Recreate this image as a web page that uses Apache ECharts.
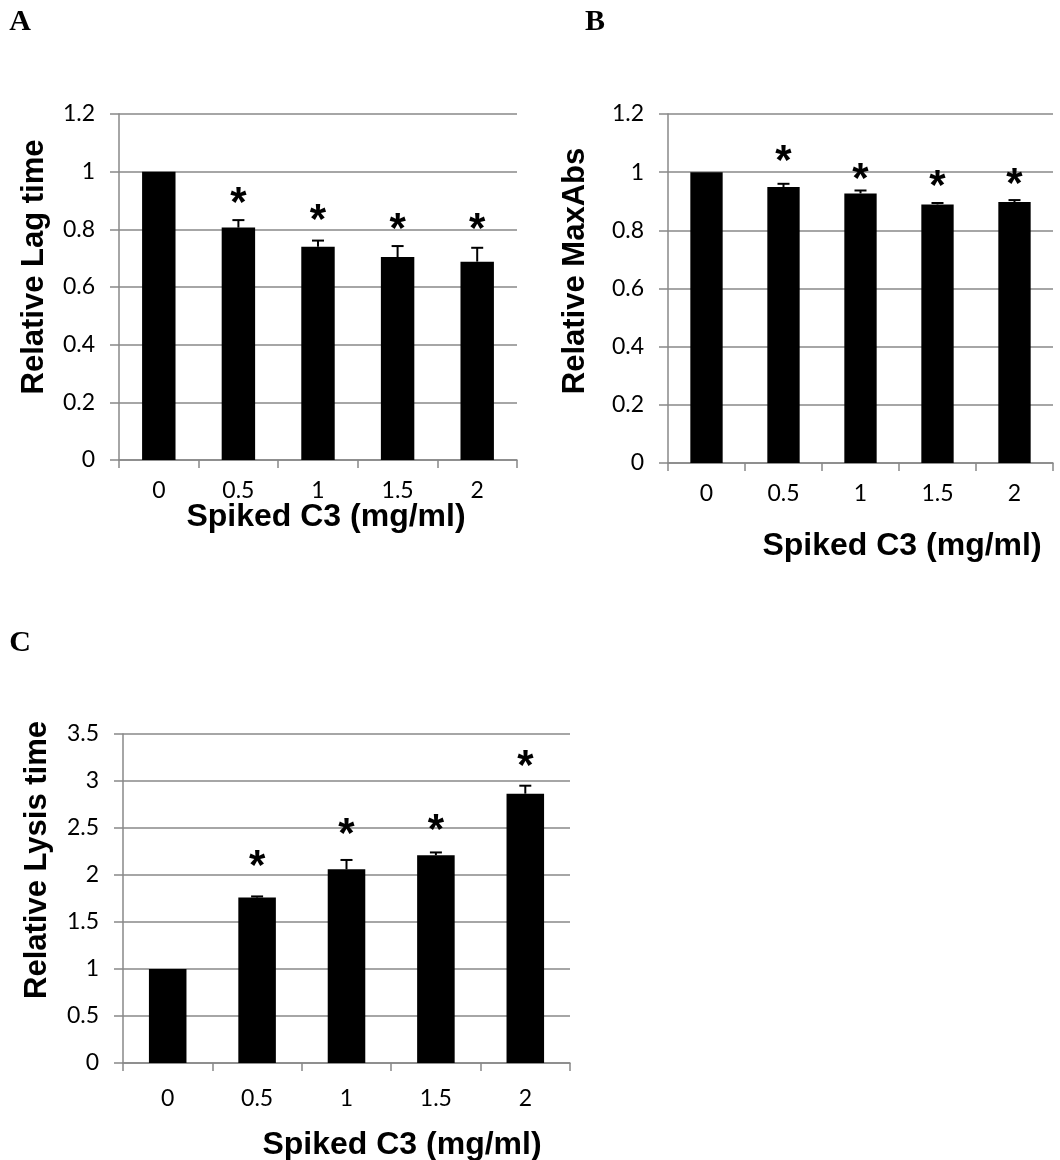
<!DOCTYPE html>
<html>
<head>
<meta charset="utf-8">
<script src="https://cdn.jsdelivr.net/npm/echarts@6/dist/echarts.min.js"></script>
<style>
  html, body { margin: 0; padding: 0; background: #fff; }
  #chart { width: 1060px; height: 1160px; }
</style>
</head>
<body>
<div id="chart"></div>
<script>
// categories: spiked C3 (mg/ml)
const categories = ['0', '0.5', '1', '1.5', '2'];

// A: relative lag time
const lagTime = [1, 0.806, 0.740, 0.704, 0.688];
const lagTimeErr = [0, 0.026, 0.021, 0.038, 0.048];
const lagTimeStar = [null, 0.91, 0.85, 0.822, 0.822];

// B: relative MaxAbs
const maxAbs = [1, 0.949, 0.927, 0.889, 0.897];
const maxAbsErr = [0, 0.011, 0.010, 0.005, 0.007];
const maxAbsStar = [null, 1.059, 0.997, 0.972, 0.979];

// C: relative lysis time
const lysisTime = [1, 1.76, 2.06, 2.21, 2.865];
const lysisTimeErr = [0, 0.012, 0.10, 0.03, 0.085];
const lysisTimeStar = [null, 2.16, 2.50, 2.54, 3.22];

const gridColor = '#888888';
const labelFont = 'Lato';
const titleFont = '"Liberation Sans", Arial, sans-serif';

const panels = [
    {
        letter: 'A', letterPos: [20, 22],
        grid: {left: 119, top: 114, width: 398, height: 346},
        y: {min: 0, max: 1.2, interval: 0.2},
        yName: 'Relative Lag time', yNamePos: [34, 267],
        xNamePos: [326, 517], xLabelMargin: 19,
        values: lagTime, err: lagTimeErr, star: lagTimeStar
    },
    {
        letter: 'B', letterPos: [595, 22],
        grid: {left: 668, top: 114, width: 385, height: 349},
        y: {min: 0, max: 1.2, interval: 0.2},
        yName: 'Relative MaxAbs', yNamePos: [575, 271],
        xNamePos: [902, 546], xLabelMargin: 19,
        values: maxAbs, err: maxAbsErr, star: maxAbsStar
    },
    {
        letter: 'C', letterPos: [20, 643],
        grid: {left: 123, top: 734, width: 447, height: 329},
        y: {min: 0, max: 3.5, interval: 0.5},
        yName: 'Relative Lysis time', yNamePos: [37, 860],
        xNamePos: [402, 1145], xLabelMargin: 24,
        values: lysisTime, err: lysisTimeErr, star: lysisTimeStar
    }
];

const renderErrorBar = (params, api) => {
    const i = api.value(0);
    const mean = api.value(1);
    const err = api.value(2);
    const star = api.value(3);
    const base = api.coord([i, mean]);
    const top = api.coord([i, mean + err]);
    const children = [];
    if (err > 0) {
        children.push({
            type: 'line',
            shape: {x1: base[0], y1: base[1], x2: top[0], y2: top[1]},
            style: {stroke: '#000', lineWidth: 2}
        });
        children.push({
            type: 'line',
            shape: {x1: top[0] - 6, y1: top[1], x2: top[0] + 6, y2: top[1]},
            style: {stroke: '#000', lineWidth: 2}
        });
    }
    if (!isNaN(star)) {
        const p = api.coord([i, star]);
        children.push({
            type: 'text',
            x: p[0],
            y: p[1] + 7,
            style: {
                text: '*',
                font: 'bold 42px ' + titleFont,
                fill: '#000',
                align: 'center',
                verticalAlign: 'middle',
                textAlign: 'center',
                textVerticalAlign: 'middle'
            }
        });
    }
    return {type: 'group', children};
};

const grid = [];
const xAxis = [];
const yAxis = [];
const series = [];
const graphic = [];

panels.forEach((p, idx) => {
    grid.push(Object.assign({containLabel: false}, p.grid));
    xAxis.push({
        type: 'category',
        gridIndex: idx,
        data: categories,
        axisLine: {lineStyle: {color: gridColor, width: 1.5}},
        axisTick: {show: true, length: 8, lineStyle: {color: gridColor, width: 1.5}},
        axisLabel: {color: '#000', fontFamily: labelFont, fontSize: 23, margin: p.xLabelMargin},
        splitLine: {show: false}
    });
    yAxis.push({
        type: 'value',
        gridIndex: idx,
        min: p.y.min,
        max: p.y.max,
        interval: p.y.interval,
        axisLine: {show: true, lineStyle: {color: gridColor, width: 1.5}},
        axisTick: {show: true, length: 9, lineStyle: {color: gridColor, width: 1.5}},
        axisLabel: {color: '#000', fontFamily: labelFont, fontSize: 23, margin: 24},
        splitLine: {show: true, lineStyle: {color: gridColor, width: 1.5}}
    });
    series.push({
        type: 'bar',
        xAxisIndex: idx,
        yAxisIndex: idx,
        barWidth: '42%',
        itemStyle: {color: '#000'},
        data: p.values
    });
    series.push({
        type: 'custom',
        xAxisIndex: idx,
        yAxisIndex: idx,
        renderItem: renderErrorBar,
        z: 5,
        data: p.values.map((v, i) => [i, v, p.err[i], p.star[i] == null ? NaN : p.star[i]])
    });
    graphic.push({
        type: 'text',
        x: p.letterPos[0],
        y: p.letterPos[1],
        style: {
            text: p.letter,
            font: 'bold 30px "Liberation Serif", "Times New Roman", serif',
            fill: '#000',
            align: 'center', verticalAlign: 'middle',
            textAlign: 'center', textVerticalAlign: 'middle'
        }
    });
    graphic.push({
        type: 'text',
        x: p.yNamePos[0],
        y: p.yNamePos[1],
        rotation: Math.PI / 2,
        style: {
            text: p.yName,
            font: 'bold 31px ' + titleFont,
            fill: '#000',
            align: 'center', verticalAlign: 'middle',
            textAlign: 'center', textVerticalAlign: 'middle'
        }
    });
    graphic.push({
        type: 'text',
        x: p.xNamePos[0],
        y: p.xNamePos[1],
        style: {
            text: 'Spiked C3 (mg/ml)',
            font: 'bold 32px ' + titleFont,
            fill: '#000',
            align: 'center', verticalAlign: 'middle',
            textAlign: 'center', textVerticalAlign: 'middle'
        }
    });
});

const option = {
    animation: false,
    backgroundColor: '#fff',
    grid,
    xAxis,
    yAxis,
    series,
    graphic
};

const myChart = echarts.init(document.getElementById('chart'));
myChart.setOption(option);
</script>
</body>
</html>
